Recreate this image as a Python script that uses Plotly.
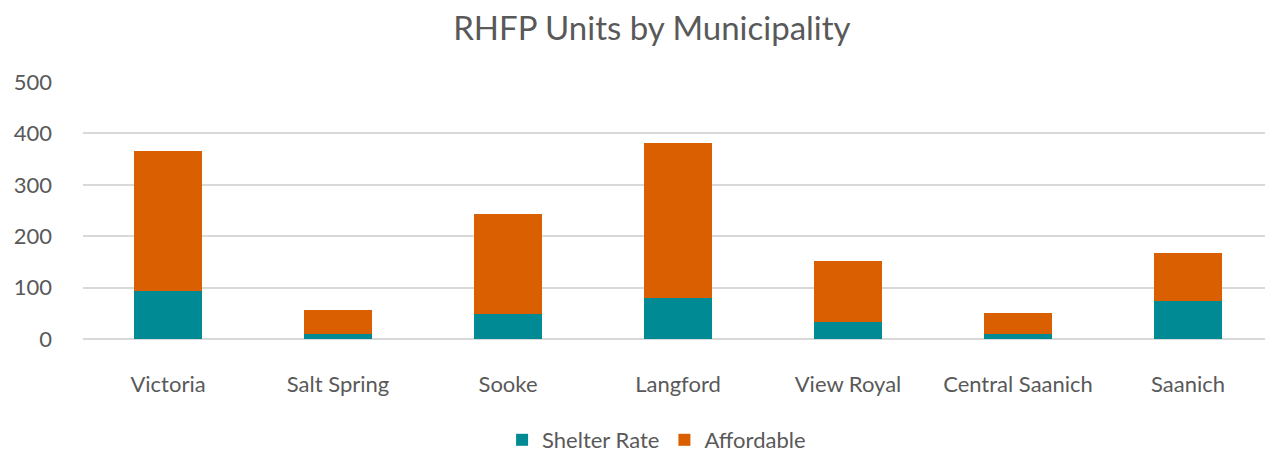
import plotly.graph_objects as go

municipalities = ['Victoria', 'Salt Spring', 'Sooke', 'Langford', 'View Royal', 'Central Saanich', 'Saanich']
shelter_rate = [93, 10, 49, 80, 34, 10, 73]
affordable = [273, 46, 195, 301, 117, 40, 95]

font_family = 'Lato, Open Sans, sans-serif'
grey = '#595959'

fig = go.Figure()
fig.add_trace(go.Bar(x=municipalities, y=shelter_rate, name='Shelter Rate',
                     marker=dict(color='#008B94', line=dict(width=0))))
fig.add_trace(go.Bar(x=municipalities, y=affordable, name='Affordable',
                     marker=dict(color='#D95F00', line=dict(width=0))))

# page body has an 8px margin, so the figure is sized to fit the window
fig.update_layout(
    width=1265, height=447,
    barmode='stack',
    bargap=0.6,
    paper_bgcolor='white',
    plot_bgcolor='white',
    font=dict(family=font_family, color=grey),
    title=dict(text='RHFP Units by Municipality', x=0.509, xanchor='center',
               yref='container', y=0.955, yanchor='middle', font=dict(size=33, color=grey)),
    margin=dict(l=75, r=0, t=74, b=116, autoexpand=False),
    legend=dict(orientation='h', x=0.482, xanchor='center', y=-0.393, yanchor='middle',
                font=dict(size=22, color=grey), traceorder='normal'),
)
fig.update_xaxes(showgrid=False, showline=False, ticks='', tickfont=dict(size=22, color=grey),
                 ticklabelstandoff=30)
fig.update_yaxes(range=[0, 500], dtick=100, showgrid=True, gridcolor='#D9D9D9', gridwidth=2,
                 zeroline=True, zerolinecolor='#D9D9D9', zerolinewidth=2,
                 showline=False, ticks='', tickfont=dict(size=22, color=grey),
                 ticklabelstandoff=30)

fig.write_html('out.html')
